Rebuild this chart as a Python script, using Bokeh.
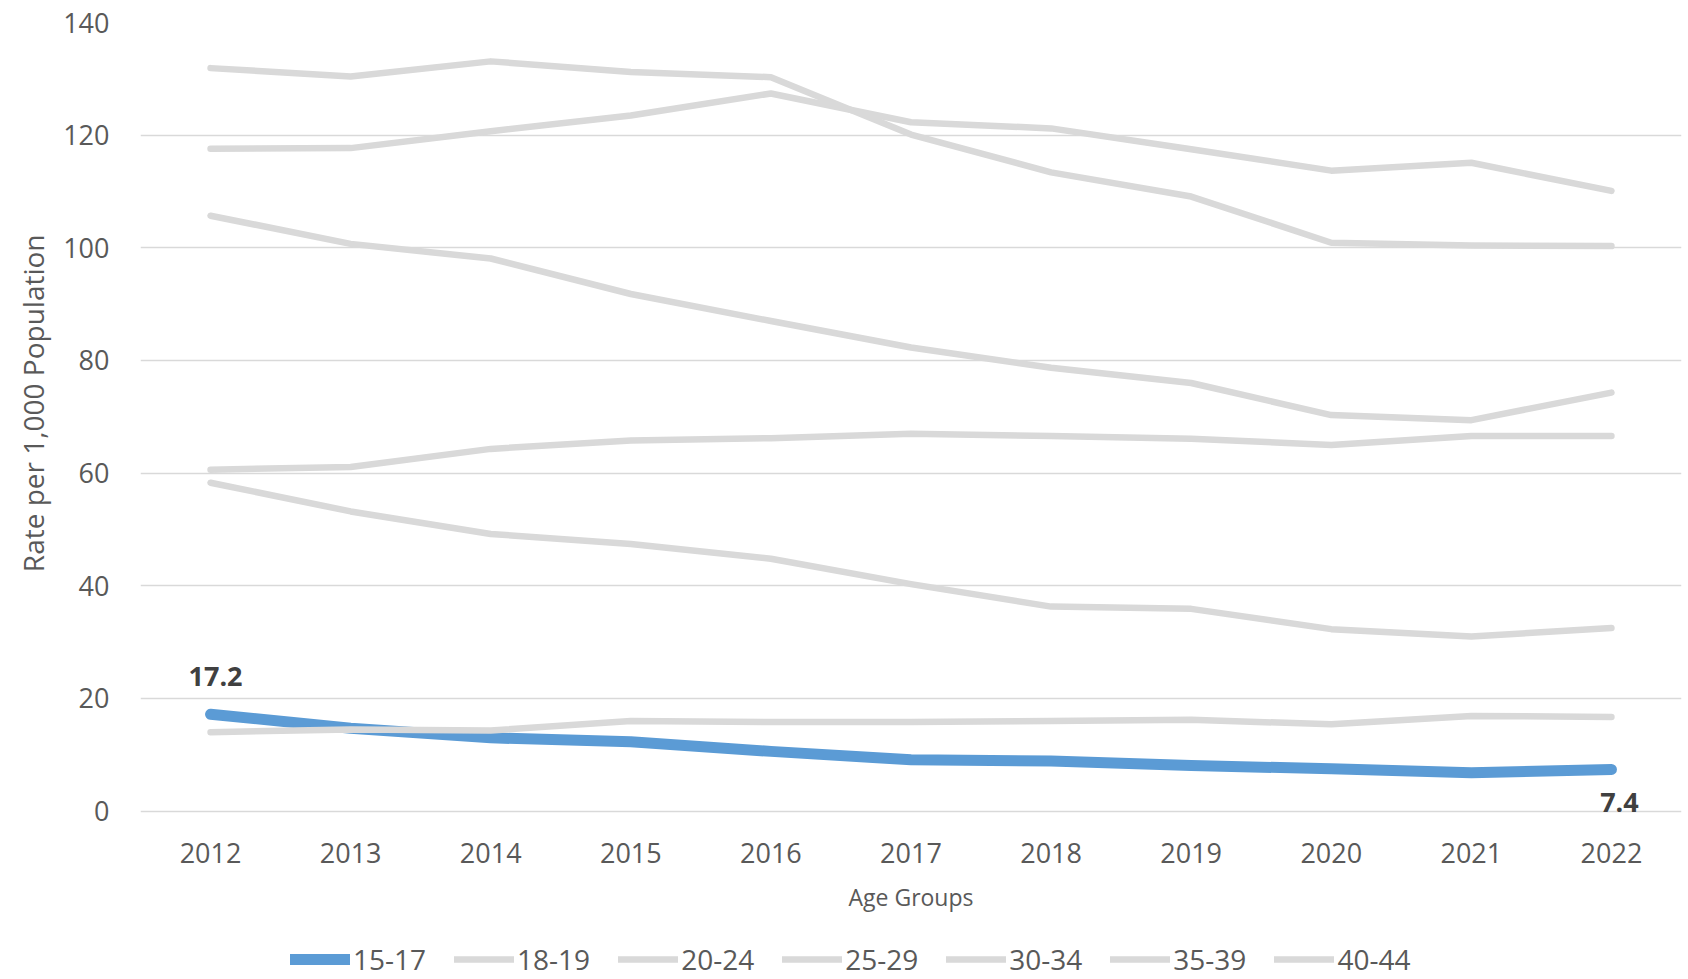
from bokeh.plotting import figure
from bokeh.models import FactorRange, Range1d, Legend, LegendItem, FixedTicker, Title
from bokeh.core.properties import value
from bokeh.embed import file_html
from bokeh.resources import INLINE

# ---- data ----
years = ["2012", "2013", "2014", "2015", "2016", "2017", "2018", "2019", "2020", "2021", "2022"]
age_groups = ["15-17", "18-19", "20-24", "25-29", "30-34", "35-39", "40-44"]
rate_15_17 = [17.2, 14.7, 13.0, 12.3, 10.6, 9.1, 8.9, 8.1, 7.5, 6.8, 7.4]
rate_18_19 = [58.3, 53.2, 49.2, 47.4, 44.8, 40.3, 36.3, 35.9, 32.3, 31.0, 32.5]
rate_20_24 = [105.7, 100.7, 98.1, 91.8, 87.0, 82.3, 78.7, 76.0, 70.3, 69.4, 74.3]
rate_25_29 = [131.9, 130.4, 133.1, 131.2, 130.3, 120.1, 113.4, 109.1, 100.9, 100.4, 100.3]
rate_30_34 = [117.6, 117.7, 120.7, 123.5, 127.4, 122.3, 121.2, 117.5, 113.7, 115.1, 110.1]
rate_35_39 = [60.6, 61.1, 64.3, 65.8, 66.2, 67.0, 66.6, 66.1, 65.0, 66.6, 66.6]
rate_40_44 = [14.0, 14.5, 14.3, 16.0, 15.8, 15.8, 16.0, 16.2, 15.4, 16.9, 16.7]
y_ticks = [0, 20, 40, 60, 80, 100, 120, 140]

series = [rate_15_17, rate_18_19, rate_20_24, rate_25_29, rate_30_34, rate_35_39, rate_40_44]

FONT = "Open Sans"
TXT = "#595959"
BLUE = "#5B9BD5"
GREY = "#D9D9D9"

# frame runs to the bottom of the canvas; the value axis shows 0..140 and the
# category axis is pinned at y = 0, leaving room below for labels and legend
p = figure(width=1688, height=979,
           x_range=FactorRange(*years, range_padding=0),
           y_range=Range1d(-29.9, 140),
           output_backend="svg", toolbar_location=None,
           min_border_left=140, min_border_right=7,
           min_border_top=22, min_border_bottom=0,
           outline_line_color=None, background_fill_color="white",
           border_fill_color="white")

renderers = []
for i, (name, vals) in enumerate(zip(age_groups, series)):
    if i == 0:
        r = p.line(years, vals, line_color=BLUE, line_width=11,
                   line_cap="round", line_join="round")
    else:
        r = p.line(years, vals, line_color=GREY, line_width=6.5,
                   line_cap="round", line_join="round")
    renderers.append(r)

# grid
p.xgrid.grid_line_color = None
p.ygrid.grid_line_color = GREY
p.ygrid.grid_line_width = 1.5
p.ygrid.ticker = FixedTicker(ticks=y_ticks)

# y axis
p.yaxis.ticker = FixedTicker(ticks=y_ticks)
p.yaxis.axis_line_color = None
p.yaxis.major_tick_line_color = None
p.yaxis.minor_tick_line_color = None
p.yaxis.major_label_text_font = FONT
p.yaxis.major_label_text_font_size = "27px"
p.yaxis.major_label_text_color = TXT
p.yaxis.major_label_standoff = 25

ytitle = Title(text="Rate per 1,000 Population", align="right", offset=212,
               text_font=FONT, text_font_size="28px", text_font_style="normal",
               text_color=TXT, standoff=18)
p.add_layout(ytitle, "left")

# x axis pinned at y = 0
p.xaxis.fixed_location = 0
p.xaxis.axis_line_color = None
p.xaxis.major_tick_line_color = None
p.xaxis.minor_tick_line_color = None
p.xaxis.major_label_text_font = FONT
p.xaxis.major_label_text_font_size = "27px"
p.xaxis.major_label_text_color = TXT
p.xaxis.major_label_standoff = 26
p.xaxis.axis_label = "Age Groups"
p.xaxis.axis_label_text_font = FONT
p.xaxis.axis_label_text_font_size = "23px"
p.xaxis.axis_label_text_font_style = "normal"
p.xaxis.axis_label_text_color = TXT
p.xaxis.axis_label_standoff = 14

# data labels (first and last value of 15-17)
p.text(x=[years[0]], y=[rate_15_17[0]], text=[f"{rate_15_17[0]}"],
       x_offset=5, y_offset=-38, text_align="center", text_baseline="middle",
       text_font=value(FONT), text_font_size="27px", text_font_style="bold",
       text_color="#404040")
p.text(x=[years[-1]], y=[rate_15_17[-1]], text=[f"{rate_15_17[-1]}"],
       x_offset=8, y_offset=33, text_align="center", text_baseline="middle",
       text_font=value(FONT), text_font_size="27px", text_font_style="bold",
       text_color="#404040")

legend = Legend(items=[LegendItem(label=n, renderers=[r]) for n, r in zip(age_groups, renderers)],
                orientation="horizontal", location=(150, 1),
                glyph_width=60, glyph_height=30, label_height=30,
                label_standoff=3, spacing=28, padding=0, margin=0,
                border_line_color=None, background_fill_alpha=0,
                label_text_font=FONT, label_text_font_size="28px",
                label_text_color=TXT)
p.add_layout(legend, "center")

open("out.html", "w").write(file_html(p, INLINE))
